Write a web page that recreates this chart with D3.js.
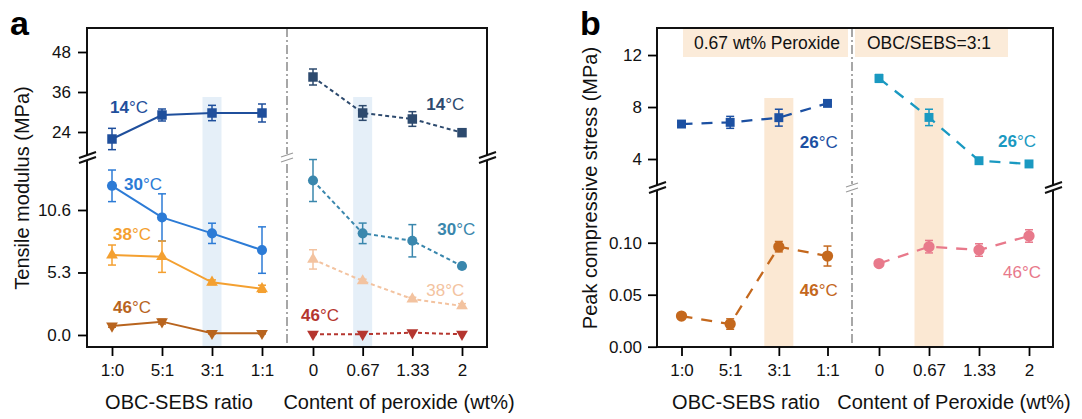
<!DOCTYPE html>
<html><head><meta charset="utf-8">
<script src="https://cdn.jsdelivr.net/npm/d3@7"></script>
<style>body{margin:0;background:#fff}svg{display:block;font-family:"Liberation Sans",Arial,sans-serif}</style>
</head><body><svg id="c" width="1082" height="419"></svg>
<script>
// ---------- data ----------
const ratioCats = ["1:0", "5:1", "3:1", "1:1"];
const peroxCats = ["0", "0.67", "1.33", "2"];

const aUpperTicks = [24, 36, 48];
const aLowerTicks = [0, 5.3, 10.6];
const bUpperTicks = [4, 8, 12];
const bLowerTicks = [0, 0.05, 0.10];

// panel a, tensile modulus (MPa)
const a14Ratio = [21.9, 29.1, 29.7, 29.7];
const a14RatioErr = [3.2, 1.8, 2.3, 2.7];
const a30Ratio = [12.65, 9.97, 8.62, 7.2];
const a30RatioErr = [1.34, 2.0, 0.86, 1.97];
const a38Ratio = [6.78, 6.64, 4.47, 3.92];
const a38RatioErr = [0.85, 1.33, 0.2, 0.3];
const a46Ratio = [0.76, 1.13, 0.14, 0.14];
const a46RatioErr = [0.1, 0.2, 0.05, 0.05];

const a14Perox = [40.5, 29.7, 27.9, 23.8];
const a14PeroxErr = [2.4, 2.2, 2.2, 0.4];
const a30Perox = [13.1, 8.62, 7.99, 5.85];
const a30PeroxErr = [1.78, 0.87, 1.37, 0.1];
const a38Perox = [6.41, 4.58, 3.05, 2.46];
const a38PeroxErr = [0.82, 0.15, 0.15, 0.2];
const a46Perox = [0.06, 0.06, 0.2, 0.06];
const a46PeroxErr = [0, 0, 0, 0];

// panel b, peak compressive stress (MPa)
const b26Ratio = [6.69, 6.82, 7.18, 8.28];
const b26RatioErr = [0.15, 0.46, 0.65, 0.15];
const b46Ratio = [0.0295, 0.0218, 0.0962, 0.0872];
const b46RatioErr = [0.002, 0.005, 0.005, 0.0096];
const b26Perox = [10.2, 7.2, 3.87, 3.62];
const b26PeroxErr = [0.3, 0.63, 0.1, 0.15];
const b46Perox = [0.080, 0.0962, 0.093, 0.1065];
const b46PeroxErr = [0.002, 0.006, 0.006, 0.006];

// ---------- drawing ----------
const svg = d3.select("#c");
const FONT = "Liberation Sans, Arial, sans-serif";

function symbolPath(kind, size) {
  if (kind === "square") return d3.symbol(d3.symbolSquare, size)();
  if (kind === "circle") return d3.symbol(d3.symbolCircle, size)();
  return d3.symbol(d3.symbolTriangle, size)();
}

function drawSeries(g, xs, ys, cats, vals, errs, o) {
  const pts = cats.map((c, i) => ({x: xs(c), y: ys(vals[i]), e: errs[i], v: vals[i]}));
  const line = d3.line().x(d => d.x).y(d => d.y);
  g.append("path").attr("d", line(pts)).attr("fill", "none")
    .attr("stroke", o.color).attr("stroke-width", o.lw || 2)
    .attr("stroke-dasharray", o.dash || null);
  const eg = g.append("g").attr("stroke", o.color).attr("stroke-width", 1.5);
  pts.forEach(p => {
    if (p.e <= 0) return;
    const y1 = ys(p.v + p.e), y2 = ys(p.v - p.e), cw = o.cap || 4;
    eg.append("line").attr("x1", p.x).attr("x2", p.x).attr("y1", y1).attr("y2", y2);
    eg.append("line").attr("x1", p.x - cw).attr("x2", p.x + cw).attr("y1", y1).attr("y2", y1);
    eg.append("line").attr("x1", p.x - cw).attr("x2", p.x + cw).attr("y1", y2).attr("y2", y2);
  });
  g.selectAll(null).data(pts).enter().append("path")
    .attr("d", symbolPath(o.shape, o.size))
    .attr("transform", d => `translate(${d.x},${d.y})` + (o.shape === "tridown" ? " rotate(180)" : ""))
    .attr("fill", o.color);
}

function tempLabel(g, x, y, num, color, boldNum) {
  const t = g.append("text").attr("x", x).attr("y", y).attr("fill", color)
    .attr("font-size", 17).attr("font-family", FONT);
  t.append("tspan").attr("font-weight", boldNum ? "bold" : "normal").text(num);
  t.append("tspan").text("°C");
}

function axisBreak(g, x, y, color, gapW) {
  g.append("rect").attr("x", x - gapW / 2).attr("y", y - 1).attr("width", gapW).attr("height", 5).attr("fill", "#fff");
  g.append("line").attr("x1", x - 8).attr("y1", y + 2).attr("x2", x + 9).attr("y2", y - 4)
    .attr("stroke", color).attr("stroke-width", 2);
  g.append("line").attr("x1", x - 8).attr("y1", y + 7).attr("x2", x + 9).attr("y2", y + 1)
    .attr("stroke", color).attr("stroke-width", 2);
}

function styleAxis(sel, fs) {
  sel.select(".domain").remove();
  sel.selectAll(".tick line").attr("stroke", "#000").attr("stroke-width", 1.8);
  sel.selectAll(".tick text").attr("font-size", fs).attr("font-family", FONT).attr("fill", "#111");
}

// ========== Panel a ==========
(function () {
  const L = 87, R = 487, T = 28, B = 347, DIV = 287, BRK = 156;
  const g = svg.append("g");
  const xL = d3.scalePoint().domain(ratioCats).range([112, 262]);
  const xR = d3.scalePoint().domain(peroxCats).range([313, 462]);
  const yU = d3.scaleLinear().domain([18, 55.2]).range([152, 28]);
  const yD = d3.scaleLinear().domain([-1.02, 15.01]).range([347, 158]);

  // highlight bands
  [[xL, "3:1"], [xR, "0.67"]].forEach(([s, c]) => {
    g.append("rect").attr("x", s(c) - 9.5).attr("y", 97).attr("width", 19).attr("height", B - 97).attr("fill", "#e5eff8");
  });

  // divider
  g.append("line").attr("x1", DIV).attr("x2", DIV).attr("y1", T).attr("y2", B)
    .attr("stroke", "#8a8a8a").attr("stroke-width", 1.5).attr("stroke-dasharray", "9,3,2,3");

  // series
  drawSeries(g, xL, yU, ratioCats, a14Ratio, a14RatioErr, {color: "#1f4f9c", shape: "square", size: 90});
  drawSeries(g, xL, yD, ratioCats, a30Ratio, a30RatioErr, {color: "#2c7bd6", shape: "circle", size: 80});
  drawSeries(g, xL, yD, ratioCats, a38Ratio, a38RatioErr, {color: "#f4a030", shape: "triangle", size: 60});
  drawSeries(g, xL, yD, ratioCats, a46Ratio, a46RatioErr, {color: "#b8641e", shape: "tridown", size: 60});

  drawSeries(g, xR, yU, peroxCats, a14Perox, a14PeroxErr, {color: "#2d4a6e", shape: "square", size: 90, dash: "4,3"});
  drawSeries(g, xR, yD, peroxCats, a30Perox, a30PeroxErr, {color: "#3a87ad", shape: "circle", size: 80, dash: "4,3"});
  drawSeries(g, xR, yD, peroxCats, a38Perox, a38PeroxErr, {color: "#f3c3a0", shape: "triangle", size: 60, dash: "4,3"});
  drawSeries(g, xR, yD, peroxCats, a46Perox, a46PeroxErr, {color: "#b5362f", shape: "tridown", size: 60, dash: "4,3"});

  // frame
  g.append("rect").attr("x", L).attr("y", T).attr("width", R - L).attr("height", B - T)
    .attr("fill", "none").attr("stroke", "#111").attr("stroke-width", 2);

  // axes
  const ay1 = g.append("g").attr("transform", `translate(${L},0)`)
    .call(d3.axisLeft(yU).tickValues(aUpperTicks).tickSize(9).tickPadding(7).tickFormat(d3.format("d")));
  styleAxis(ay1, 17);
  const ay2 = g.append("g").attr("transform", `translate(${L},0)`)
    .call(d3.axisLeft(yD).tickValues(aLowerTicks).tickSize(9).tickPadding(7).tickFormat(d3.format(".1f")));
  styleAxis(ay2, 17);
  const ax1 = g.append("g").attr("transform", `translate(0,${B})`)
    .call(d3.axisBottom(xL).tickSize(9).tickPadding(8));
  styleAxis(ax1, 17);
  const ax2 = g.append("g").attr("transform", `translate(0,${B})`)
    .call(d3.axisBottom(xR).tickSize(9).tickPadding(8));
  styleAxis(ax2, 17);

  // breaks
  axisBreak(g, L, BRK, "#111", 6);
  axisBreak(g, R, BRK, "#111", 6);
  g.append("rect").attr("x", DIV - 3).attr("y", BRK - 2).attr("width", 6).attr("height", 8).attr("fill", "#fff");
  g.append("line").attr("x1", DIV - 6).attr("y1", BRK + 1).attr("x2", DIV + 6).attr("y2", BRK - 3).attr("stroke", "#9a9a9a").attr("stroke-width", 1.3);
  g.append("line").attr("x1", DIV - 6).attr("y1", BRK + 6).attr("x2", DIV + 6).attr("y2", BRK + 2).attr("stroke", "#9a9a9a").attr("stroke-width", 1.3);

  // temp labels
  tempLabel(g, xL("1:0") - 2, yU(29.7), "14", "#1f4f9c", true);
  tempLabel(g, xL("1:0") + 12, yD(12.3), "30", "#2c7bd6", true);
  tempLabel(g, xL("1:0") + 1, yD(8.06), "38", "#f4a030", true);
  tempLabel(g, xL("1:0") + 1, yD(1.87), "46", "#b8641e", true);
  tempLabel(g, xR("1.33") + 14, yU(30.6), "14", "#2d4a6e", true);
  tempLabel(g, xR("1.33") + 25, yD(8.48), "30", "#3a87ad", true);
  tempLabel(g, xR("1.33") + 14, yD(3.31), "38", "#f3c3a0", false);
  tempLabel(g, xR("0") - 12, yD(1.19), "46", "#b5362f", true);

  // titles
  g.append("text").attr("x", 179).attr("y", 409).attr("text-anchor", "middle").attr("font-size", 20).attr("font-family", FONT).attr("fill", "#111").text("OBC-SEBS ratio");
  g.append("text").attr("x", 399).attr("y", 409).attr("text-anchor", "middle").attr("font-size", 20).attr("font-family", FONT).attr("fill", "#111").text("Content of peroxide (wt%)");
  g.append("text").attr("transform", "translate(29,188) rotate(-90)").attr("text-anchor", "middle").attr("font-size", 20).attr("font-family", FONT).attr("fill", "#111").text("Tensile modulus (MPa)");
  g.append("text").attr("x", 10).attr("y", 35).attr("font-size", 34).attr("font-weight", "bold").attr("font-family", FONT).attr("fill", "#000").text("a");
})();

// ========== Panel b ==========
(function () {
  const L = 657, R = 1053, T = 28, B = 347, DIV = 852, BRK = 186;
  const g = svg.append("g");
  const xL = d3.scalePoint().domain(ratioCats).range([681.5, 827.5]);
  const xR = d3.scalePoint().domain(peroxCats).range([879, 1029]);
  const yU = d3.scaleLinear().domain([2, 14.08]).range([185, 28]);
  const yD = d3.scaleLinear().domain([0, 0.1488]).range([346.7, 192]);

  // header boxes
  g.append("rect").attr("x", 683).attr("y", T + 1).attr("width", 165).attr("height", 28).attr("fill", "#fbebd9");
  g.append("rect").attr("x", 855).attr("y", T + 1).attr("width", 153).attr("height", 28).attr("fill", "#fbebd9");
  g.append("text").attr("x", 694).attr("y", 49).attr("font-size", 17.5).attr("font-family", FONT).attr("fill", "#111").text("0.67 wt% Peroxide");
  g.append("text").attr("x", 867).attr("y", 49).attr("font-size", 17.5).attr("font-family", FONT).attr("fill", "#111").text("OBC/SEBS=3:1");

  // bands
  [[xL, "3:1"], [xR, "0.67"]].forEach(([s, c]) => {
    g.append("rect").attr("x", s(c) - 14.5).attr("y", 98).attr("width", 29).attr("height", B - 98).attr("fill", "#fbe8d3");
  });

  // divider
  g.append("line").attr("x1", DIV).attr("x2", DIV).attr("y1", T).attr("y2", B)
    .attr("stroke", "#8a8a8a").attr("stroke-width", 1.5).attr("stroke-dasharray", "9,3,2,3");

  drawSeries(g, xL, yU, ratioCats, b26Ratio, b26RatioErr, {color: "#1c50a2", shape: "square", size: 80, dash: "11,9", lw: 2.3});
  drawSeries(g, xL, yD, ratioCats, b46Ratio, b46RatioErr, {color: "#c4681d", shape: "circle", size: 100, dash: "11,9", lw: 2.3});
  drawSeries(g, xR, yU, peroxCats, b26Perox, b26PeroxErr, {color: "#1a99c1", shape: "square", size: 80, dash: "11,9", lw: 2.3});
  drawSeries(g, xR, yD, peroxCats, b46Perox, b46PeroxErr, {color: "#e8798b", shape: "circle", size: 100, dash: "11,9", lw: 2.3});

  g.append("rect").attr("x", L).attr("y", T).attr("width", R - L).attr("height", B - T)
    .attr("fill", "none").attr("stroke", "#111").attr("stroke-width", 2);

  const ay1 = g.append("g").attr("transform", `translate(${L},0)`)
    .call(d3.axisLeft(yU).tickValues(bUpperTicks).tickSize(9).tickPadding(6).tickFormat(d3.format("d")));
  styleAxis(ay1, 17);
  const ay2 = g.append("g").attr("transform", `translate(${L},0)`)
    .call(d3.axisLeft(yD).tickValues(bLowerTicks).tickSize(9).tickPadding(6).tickFormat(d3.format(".2f")));
  styleAxis(ay2, 17);
  const ax1 = g.append("g").attr("transform", `translate(0,${B})`)
    .call(d3.axisBottom(xL).tickSize(9).tickPadding(8));
  styleAxis(ax1, 17);
  const ax2 = g.append("g").attr("transform", `translate(0,${B})`)
    .call(d3.axisBottom(xR).tickSize(9).tickPadding(8));
  styleAxis(ax2, 17);

  axisBreak(g, L, BRK, "#111", 6);
  axisBreak(g, R, BRK, "#111", 6);
  g.append("rect").attr("x", DIV - 3).attr("y", BRK - 2).attr("width", 6).attr("height", 8).attr("fill", "#fff");
  g.append("line").attr("x1", DIV - 6).attr("y1", BRK + 1).attr("x2", DIV + 6).attr("y2", BRK - 3).attr("stroke", "#9a9a9a").attr("stroke-width", 1.3);
  g.append("line").attr("x1", DIV - 6).attr("y1", BRK + 6).attr("x2", DIV + 6).attr("y2", BRK + 2).attr("stroke", "#9a9a9a").attr("stroke-width", 1.3);

  tempLabel(g, xL("3:1") + 21, yU(4.87), "26", "#1c50a2", true);
  tempLabel(g, xL("3:1") + 21, yD(0.0488), "46", "#c4681d", true);
  tempLabel(g, xR("1.33") + 19, yU(4.92), "26", "#1a99c1", true);
  tempLabel(g, xR("1.33") + 24, yD(0.066), "46", "#e8798b", false);

  g.append("text").attr("x", 746).attr("y", 409).attr("text-anchor", "middle").attr("font-size", 20).attr("font-family", FONT).attr("fill", "#111").text("OBC-SEBS ratio");
  g.append("text").attr("x", 954).attr("y", 409).attr("text-anchor", "middle").attr("font-size", 20).attr("font-family", FONT).attr("fill", "#111").text("Content of Peroxide (wt%)");
  g.append("text").attr("transform", "translate(597,188) rotate(-90)").attr("text-anchor", "middle").attr("font-size", 20).attr("font-family", FONT).attr("fill", "#111").text("Peak compressive stress (MPa)");
  g.append("text").attr("x", 580).attr("y", 35).attr("font-size", 34).attr("font-weight", "bold").attr("font-family", FONT).attr("fill", "#000").text("b");
})();
</script>
</body></html>
